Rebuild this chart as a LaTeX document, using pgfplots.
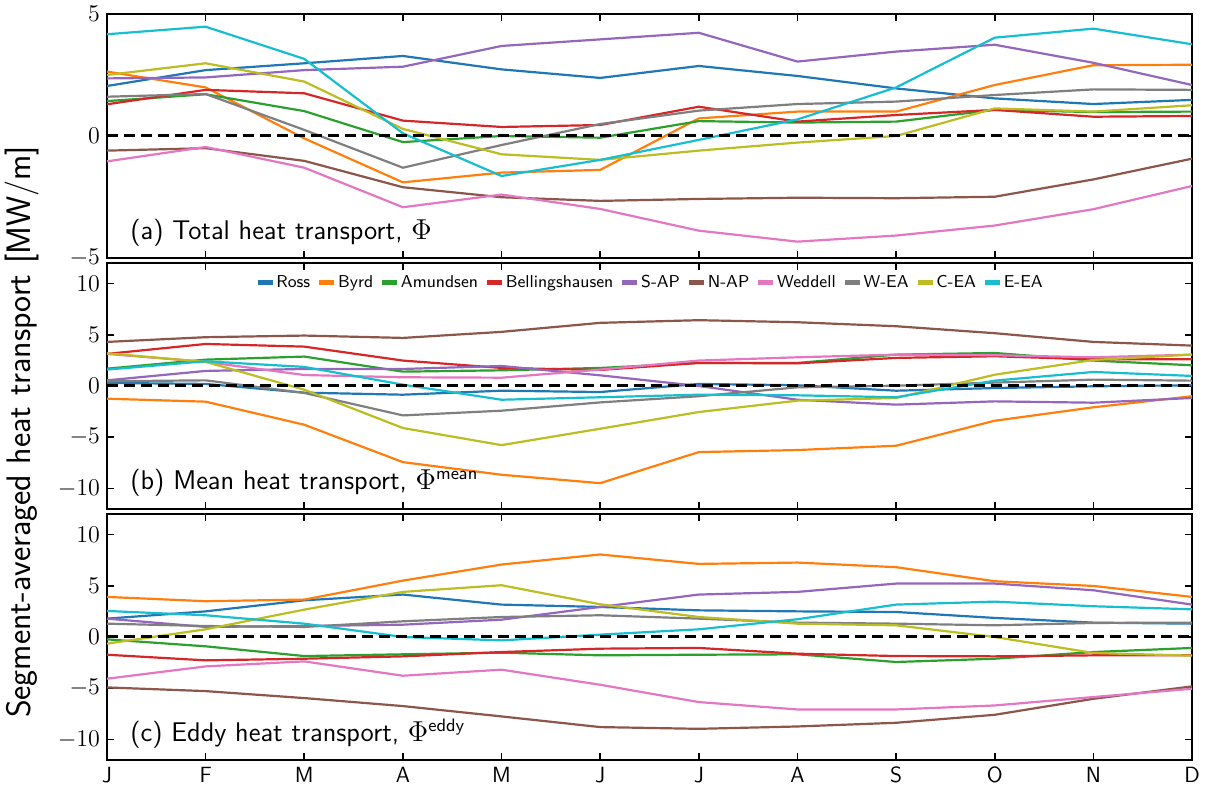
\documentclass[border=0pt]{standalone}
\usepackage{pgfplots}
\pgfplotsset{compat=1.18}
\usepackage{pgfplotstable}
\renewcommand{\familydefault}{\sfdefault}
\definecolor{c0}{HTML}{1F77B4}
\definecolor{c1}{HTML}{FF7F0E}
\definecolor{c2}{HTML}{2CA02C}
\definecolor{c3}{HTML}{D62728}
\definecolor{c4}{HTML}{9467BD}
\definecolor{c5}{HTML}{8C564B}
\definecolor{c6}{HTML}{E377C2}
\definecolor{c7}{HTML}{7F7F7F}
\definecolor{c8}{HTML}{BCBD22}
\definecolor{c9}{HTML}{17BECF}

% Panel (a): total heat transport
\pgfplotstableread{
m Ross Byrd Amun Bell SAP NAP Wed WEA CEA EEA
0 2.05 2.64 1.43 1.30 2.36 -0.60 -1.04 1.61 2.50 4.17
1 2.70 1.99 1.71 1.89 2.40 -0.50 -0.45 1.72 2.98 4.48
2 2.98 -0.10 1.02 1.75 2.70 -1.02 -1.30 0.25 2.23 3.16
3 3.28 -1.90 -0.25 0.63 2.84 -2.10 -2.92 -1.30 0.29 0.11
4 2.73 -1.50 0.00 0.37 3.69 -2.51 -2.40 -0.37 -0.75 -1.64
5 2.38 -1.39 -0.07 0.45 3.96 -2.66 -2.99 0.49 -0.98 -0.98
6 2.87 0.72 0.61 1.20 4.23 -2.58 -3.88 1.04 -0.60 -0.16
7 2.46 1.00 0.55 0.59 3.05 -2.53 -4.33 1.31 -0.27 0.68
8 1.95 1.00 0.59 0.86 3.46 -2.55 -4.08 1.41 0.00 1.99
9 1.54 2.09 1.07 1.07 3.74 -2.49 -3.67 1.68 1.13 4.03
10 1.31 2.90 0.98 0.79 3.00 -1.78 -3.00 1.91 1.00 4.40
11 1.48 2.92 1.00 0.82 2.09 -0.93 -2.05 1.89 1.26 3.76
}\tA

% Panel (b): mean heat transport
\pgfplotstableread{
m Ross Byrd Amun Bell SAP NAP Wed WEA CEA EEA
0 0.30 -1.24 1.69 3.13 0.55 4.30 3.13 0.46 3.19 1.60
1 0.20 -1.53 2.57 4.10 1.47 4.76 2.35 0.55 2.35 2.41
2 -0.65 -3.78 2.87 3.84 1.66 4.92 1.07 -0.68 -0.36 1.86
3 -0.85 -7.43 1.40 2.48 1.66 4.69 0.85 -2.87 -4.10 0.13
4 -0.46 -8.66 1.53 1.76 1.95 5.28 0.81 -2.41 -5.77 -1.34
5 -0.59 -9.48 1.76 1.56 1.04 6.16 1.60 -1.60 -4.17 -1.10
6 0.20 -6.45 2.25 2.25 0.00 6.42 2.48 -1.00 -2.54 -0.85
7 0.07 -6.25 2.25 2.21 -1.34 6.22 2.80 -0.13 -1.43 -0.91
8 -0.46 -5.83 3.06 2.74 -1.82 5.83 3.06 0.03 -1.17 -1.10
9 -0.20 -3.39 3.22 2.90 -1.50 5.15 3.00 0.33 1.10 0.52
10 -0.03 -2.08 2.48 2.60 -1.63 4.30 2.80 0.62 2.54 1.37
11 0.07 -1.00 2.02 2.60 -1.17 3.94 3.06 0.52 3.06 0.98
}\tB

% Panel (c): eddy heat transport
\pgfplotstableread{
m Ross Byrd Amun Bell SAP NAP Wed WEA CEA EEA
0 1.79 3.91 -0.23 -1.73 1.79 -4.92 -4.07 1.30 -0.65 2.54
1 2.50 3.49 -0.91 -2.28 0.98 -5.28 -2.87 1.07 0.75 2.12
2 3.58 3.65 -1.86 -2.12 1.07 -5.96 -2.38 0.98 2.67 1.30
3 4.14 5.50 -1.69 -1.89 1.20 -6.74 -3.78 1.53 4.40 0.00
4 3.16 7.07 -1.53 -1.47 1.69 -7.75 -3.19 1.95 5.05 -0.33
5 2.93 8.05 -1.79 -1.14 2.93 -8.79 -4.66 2.12 3.19 0.23
6 2.60 7.13 -1.73 -1.07 4.14 -8.96 -6.35 1.79 1.95 0.75
7 2.50 7.26 -1.69 -1.63 4.40 -8.73 -7.07 1.40 1.30 1.73
8 2.44 6.81 -2.44 -1.86 5.21 -8.37 -7.07 1.30 1.14 3.16
9 1.86 5.44 -2.12 -1.89 5.21 -7.59 -6.68 1.14 0.00 3.45
10 1.40 4.98 -1.47 -1.79 4.56 -6.03 -5.86 1.37 -1.56 3.00
11 1.30 3.91 -1.07 -1.79 3.16 -4.82 -5.05 1.40 -1.82 2.70
}\tC

\newcommand{\allseries}[1]{%
  \addplot[c0, line width=1.1pt] table[x=m, y=Ross] {#1};
  \addplot[c1, line width=1.1pt] table[x=m, y=Byrd] {#1};
  \addplot[c2, line width=1.1pt] table[x=m, y=Amun] {#1};
  \addplot[c3, line width=1.1pt] table[x=m, y=Bell] {#1};
  \addplot[c4, line width=1.1pt] table[x=m, y=SAP] {#1};
  \addplot[c5, line width=1.1pt] table[x=m, y=NAP] {#1};
  \addplot[c6, line width=1.1pt] table[x=m, y=Wed] {#1};
  \addplot[c7, line width=1.1pt] table[x=m, y=WEA] {#1};
  \addplot[c8, line width=1.1pt] table[x=m, y=CEA] {#1};
  \addplot[c9, line width=1.1pt] table[x=m, y=EEA] {#1};
  \addplot[black, line width=1.5pt, dash pattern=on 5.5pt off 3pt] coordinates {(0,0) (11,0)};
}

\pgfplotsset{
  panel/.style={
    scale only axis,
    width=542.5pt, height=123pt,
    anchor=south west,
    xmin=0, xmax=11,
    xtick={0,...,11},
    tick align=inside,
    major tick length=3.5pt,
    axis line style={line width=0.8pt},
    every tick/.style={black, line width=0.8pt},
    yticklabel style={font=\fontsize{12.5}{14}\selectfont},
    xticklabel style={font=\fontsize{11}{13}\selectfont},
  },
}
\tikzset{ptext/.style={anchor=base west, inner sep=0pt, font=\fontsize{13.5}{16}\selectfont}}

\begin{document}
\begin{tikzpicture}
\path[use as bounding box] (0,0) rectangle (603pt,395.5pt);

% (a)
\begin{axis}[panel, at={(53.5pt,266.5pt)}, height=122pt,
  ymin=-5, ymax=5, ytick={-5,0,5}, xticklabels={}]
  \allseries{\tA}
  \node[ptext] at ([xshift=11.5pt,yshift=9pt]rel axis cs:0,0) {(a) Total heat transport, $\Phi$};
\end{axis}

% (b)
\begin{axis}[panel, at={(53.5pt,141pt)},
  ymin=-12, ymax=12, ytick={-10,-5,0,5,10}, xticklabels={},
  legend columns=10,
  legend style={at={(0.5,0.965)}, anchor=north, draw=none, fill=none,
    font=\fontsize{8.6}{10}\selectfont, inner sep=1pt,
    nodes={inner sep=0.6pt},
    /tikz/every even column/.append style={column sep=2.6pt},
    /tikz/every odd column/.append style={column sep=0pt}},
  legend image code/.code={\draw[line width=2.6pt] (0pt,0pt) -- (7.5pt,0pt);}]
  \allseries{\tB}
  \legend{Ross,Byrd,Amundsen,Bellingshausen,S-AP,N-AP,Weddell,W-EA,C-EA,E-EA}
  \node[ptext] at ([xshift=11.5pt,yshift=9.5pt]rel axis cs:0,0) {(b) Mean heat transport, $\Phi^{\mathsf{mean}}$};
\end{axis}

% (c)
\begin{axis}[panel, at={(53.5pt,15.5pt)},
  ymin=-12, ymax=12, ytick={-10,-5,0,5,10},
  xticklabels={J,F,M,A,M,J,J,A,S,O,N,D}]
  \allseries{\tC}
  \node[ptext] at ([xshift=11.5pt,yshift=9pt]rel axis cs:0,0) {(c) Eddy heat transport, $\Phi^{\mathsf{eddy}}$};
\end{axis}

\node[rotate=90, font=\fontsize{17}{20}\selectfont] at (11pt,179.5pt) {Segment-averaged heat transport [MW/m]};
\end{tikzpicture}
\end{document}
